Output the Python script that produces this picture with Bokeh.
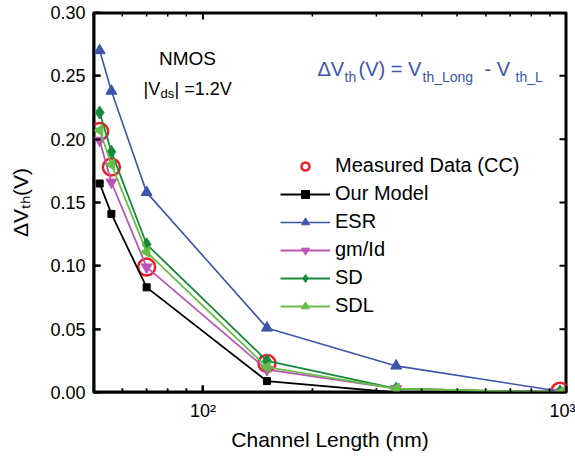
import math
from bokeh.plotting import figure
from bokeh.models import (FixedTicker, Label, Legend, LegendItem,
                          NumeralTickFormatter, Range1d)
from bokeh.embed import file_html
from bokeh.resources import INLINE

# ---------------- data ----------------
channel_length = [52, 56, 70, 150, 340, 960]          # nm
measured_length = [52, 56, 70, 150, 960]              # nm
measured_cc = [0.206, 0.178, 0.099, 0.023, 0.001]     # V
our_model = [0.165, 0.141, 0.083, 0.009, 0.000, 0.000]
esr = [0.270, 0.238, 0.158, 0.051, 0.021, 0.001]
gm_id = [0.199, 0.166, 0.099, 0.018, 0.003, 0.000]
sd = [0.221, 0.190, 0.117, 0.025, 0.003, 0.000]
sdl = [0.207, 0.180, 0.111, 0.020, 0.003, 0.000]

x_limits = [50, 1000]
y_limits = [0.0, 0.30]
x_major_ticks = [100, 1000]
x_minor_ticks = [60, 70, 80, 90, 200, 300, 400, 500, 600, 700, 800, 900]
x_tick_labels = {100: "10\u00b2", 1000: "10\u00b3"}
y_ticks = [0.0, 0.05, 0.10, 0.15, 0.20, 0.25, 0.30]

FONT = "Liberation Sans"
BLUE = "#3A55AA"
MAGENTA = "#BB55B5"
DGREEN = "#17893A"
LGREEN = "#66BE46"
RED = "#EE1C25"

W, H = 575, 456
BL, BT, BR, BB = 93, 12, 9, 64
FW, FH = W - BL - BR, H - BT - BB

p = figure(x_axis_type="log", x_range=Range1d(*x_limits), y_range=Range1d(*y_limits),
           width=W, height=H,
           min_border_left=BL, min_border_top=BT, min_border_right=BR, min_border_bottom=BB,
           output_backend="svg", toolbar_location=None)
p.grid.visible = False
p.outline_line_color = "black"
p.outline_line_width = 2


def style_axis(ax):
    ax.axis_line_width = 2
    ax.axis_line_color = "black"
    ax.major_tick_in = 7
    ax.major_tick_out = 0
    ax.minor_tick_in = 4
    ax.minor_tick_out = 0
    ax.major_tick_line_width = 2
    ax.minor_tick_line_width = 1.5
    ax.major_tick_line_color = "black"
    ax.minor_tick_line_color = "black"
    ax.major_label_text_font = FONT
    ax.major_label_text_font_size = "18px"
    ax.major_label_text_color = "black"


xticker = FixedTicker(ticks=x_major_ticks, minor_ticks=x_minor_ticks)
yticker = FixedTicker(ticks=y_ticks)

xa = p.xaxis[0]
xa.ticker = xticker
style_axis(xa)
xa.major_label_overrides = x_tick_labels
xa.major_label_standoff = 8
xa.axis_label = "Channel Length (nm)"
xa.axis_label_text_font = FONT
xa.axis_label_text_font_size = "21px"
xa.axis_label_text_font_style = "normal"
xa.axis_label_text_color = "black"
xa.axis_label_standoff = 4

ya = p.yaxis[0]
ya.ticker = yticker
ya.formatter = NumeralTickFormatter(format="0.00")
style_axis(ya)
ya.minor_tick_line_color = None
ya.major_label_standoff = 8
ya.axis_label = "\u0394V\u209c\u2095(V)"
ya.axis_label_text_font = FONT
ya.axis_label_text_font_size = "21px"
ya.axis_label_text_font_style = "normal"
ya.axis_label_text_color = "black"
ya.axis_label_standoff = 15

# ---------------- frame box and mirrored ticks drawn as glyphs ----------------
x0, x1 = x_limits
y0, y1 = y_limits
p.segment([x0, x1, x0, x0], [y0, y0, y0, y1], [x1, x1, x0, x1], [y0, y1, y1, y1],
          line_color="black", line_width=4)
dec_px = FW / math.log10(x1 / x0)
ymaj = (y1 - y0) * 7 / FH
ymin = (y1 - y0) * 4 / FH
xf = 10 ** (7 / dec_px)
p.segment(x_major_ticks, [y0] * len(x_major_ticks), x_major_ticks, [y0 + ymaj] * len(x_major_ticks),
          line_color="black", line_width=2)
p.segment(x_major_ticks, [y1] * len(x_major_ticks), x_major_ticks, [y1 - ymaj] * len(x_major_ticks),
          line_color="black", line_width=2)
p.segment(x_minor_ticks, [y0] * len(x_minor_ticks), x_minor_ticks, [y0 + ymin] * len(x_minor_ticks),
          line_color="black", line_width=1.5)
p.segment(x_minor_ticks, [y1] * len(x_minor_ticks), x_minor_ticks, [y1 - ymin] * len(x_minor_ticks),
          line_color="black", line_width=1.5)
p.segment([x0] * len(y_ticks), y_ticks, [x0 * xf] * len(y_ticks), y_ticks,
          line_color="black", line_width=2)
p.segment([x1] * len(y_ticks), y_ticks, [x1 / xf] * len(y_ticks), y_ticks,
          line_color="black", line_width=2)

# ---------------- series ----------------
r_meas = p.scatter(measured_length, measured_cc, marker="circle", size=17,
                   fill_color=None, line_color=RED, line_width=2.5)
l_our = p.line(channel_length, our_model, color="black", line_width=1.8)
s_our = p.scatter(channel_length, our_model, marker="square", size=7, color="black")
l_esr = p.line(channel_length, esr, color=BLUE, line_width=1.6)
s_esr = p.scatter(channel_length, esr, marker="triangle", size=11, color=BLUE)
l_gm = p.line(channel_length, gm_id, color=MAGENTA, line_width=1.8)
s_gm = p.scatter(channel_length, gm_id, marker="inverted_triangle", size=11, color=MAGENTA)
l_sd = p.line(channel_length, sd, color=DGREEN, line_width=1.8)
s_sd = p.scatter(channel_length, sd, marker="diamond", size=13, color=DGREEN)
l_sdl = p.line(channel_length, sdl, color=LGREEN, line_width=1.8)
s_sdl = p.scatter(channel_length, sdl, marker="triangle", angle=math.pi / 2, size=11, color=LGREEN)

legend = Legend(items=[
    LegendItem(label="Measured Data (CC)", renderers=[r_meas]),
    LegendItem(label="Our Model", renderers=[l_our, s_our]),
    LegendItem(label="ESR", renderers=[l_esr, s_esr]),
    LegendItem(label="gm/Id", renderers=[l_gm, s_gm]),
    LegendItem(label="SD", renderers=[l_sd, s_sd]),
    LegendItem(label="SDL", renderers=[l_sdl, s_sdl]),
], location=(187, 75))
legend.glyph_width = 50
legend.glyph_height = 20
legend.label_height = 20
legend.label_standoff = 5
legend.spacing = 5
legend.padding = 0
legend.margin = 0
legend.border_line_color = None
legend.background_fill_color = None
legend.label_text_font = FONT
legend.label_text_font_size = "20px"
legend.label_text_color = "black"
p.add_layout(legend)


# ---------------- text annotations (picture pixel -> data position) ----------------
def xd(px):
    return x0 * 10 ** ((px - BL) / dec_px)


def yd(py):
    return y0 + (BT + FH - py) * (y1 - y0) / FH


def add_text(px, py, text, size, color="black", align="left"):
    p.add_layout(Label(x=xd(px), y=yd(py), text=text, text_font=FONT,
                       text_font_size=size, text_color=color, text_align=align,
                       text_baseline="alphabetic"))


add_text(187, 58, "NMOS", "19px", align="center")
add_text(143, 88, "|V", "18px")
add_text(160, 93, "ds", "13px")
add_text(174, 88, "| =1.2V", "18px")

add_text(317, 68, "\u0394V", "20px", BLUE)
add_text(344, 76, "th", "14px", BLUE)
add_text(358, 68, "(V) = V", "20px", BLUE)
add_text(422, 76, "th_Long", "14px", BLUE)
add_text(484, 68, "- V", "20px", BLUE)
add_text(515, 76, "th_L", "14px", BLUE)

open("out.html", "w").write(file_html(p, INLINE))
